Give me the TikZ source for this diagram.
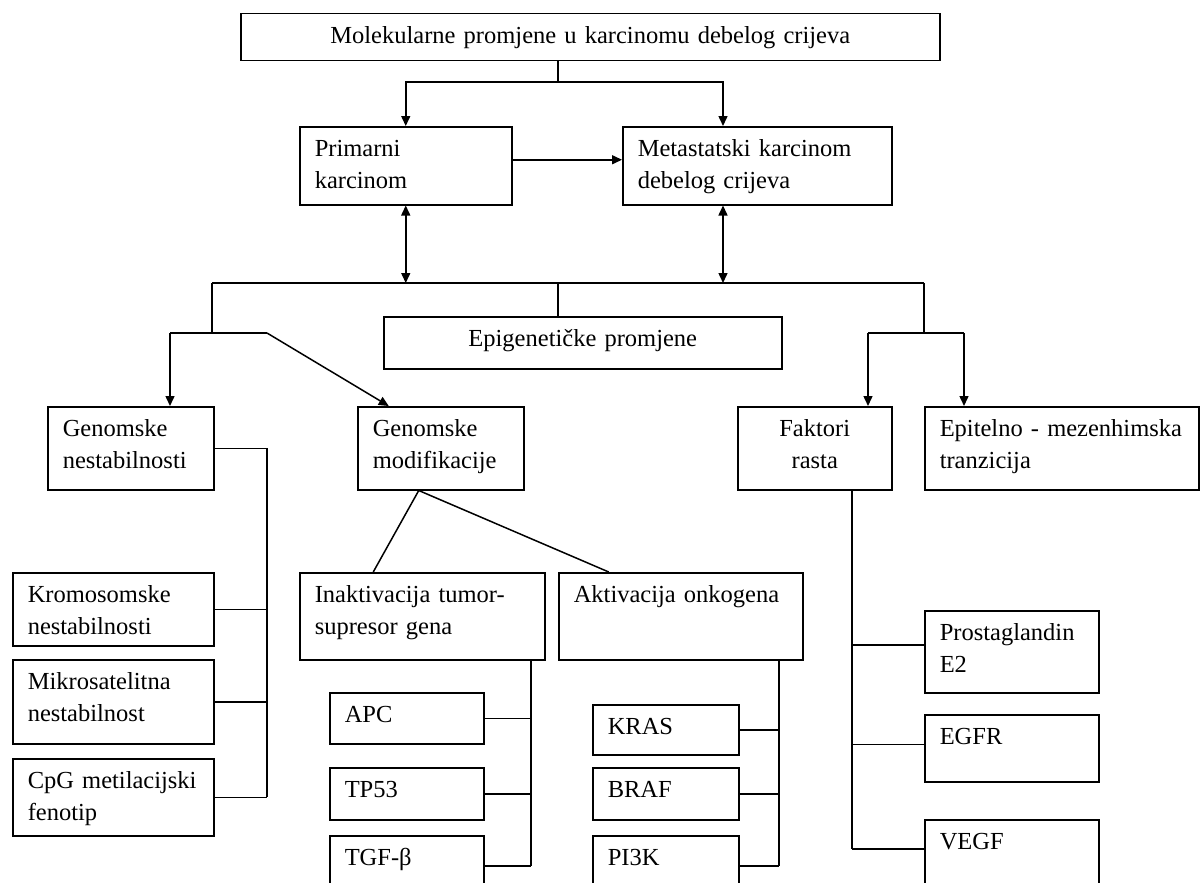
\documentclass[tikz,border=0pt]{standalone}
\usepackage{fontspec}
\setmainfont{Liberation Serif}
\usetikzlibrary{arrows.meta}

\begin{document}
\begin{tikzpicture}[x=1pt,y=-1pt,line width=1.5pt,>={Triangle[length=10pt,width=9pt]},
  box/.style={draw,anchor=north west,align=left,inner xsep=15pt,inner ysep=14pt,
    text height=16pt,font=\fontsize{24.5}{32}\selectfont}]
  \useasboundingbox (0,0) rectangle (1200,883);
  \clip (0,0) rectangle (1200,883);

  % top levels
  \node[box,align=center,text width=669pt,text depth=3pt] (top) at (240,13)
    {Molekularne promjene u karcinomu debelog crijeva};
  \node[box,text width=182pt,text depth=34pt] (prim) at (299,126) {Primarni\\karcinom};
  \node[box,text width=239pt,text depth=34pt] (meta) at (622,126) {Metastatski karcinom\\debelog crijeva};
  \node[box,align=center,text width=368pt,text depth=8pt] (epi) at (383,316) {Epigenetičke promjene};

  \node[box,text width=136pt,text depth=39pt] (gnest) at (47,406) {Genomske\\nestabilnosti};
  \node[box,text width=136pt,text depth=39pt] (gmod) at (357,406) {Genomske\\modifikacije};
  \node[box,align=center,text width=124pt,text depth=39pt] (fakt) at (737,406) {Faktori\\rasta};
  \node[box,text width=244pt,text depth=39pt] (emt) at (924,406) {Epitelno - mezenhimska\\tranzicija};

  % genomic instability
  \node[box,text width=171pt,text depth=29pt] (krom) at (12,572) {Kromosomske\\nestabilnosti};
  \node[box,text width=171pt,text depth=40pt] (mikro) at (12,659) {Mikrosatelitna\\nestabilnost};
  \node[box,text width=171pt,text depth=33pt] (cpg) at (12,758) {CpG metilacijski\\fenotip};

  % genomic modifications
  \node[box,text width=215pt,text depth=43pt] (inakt) at (299,572) {Inaktivacija tumor-\\supresor gena};
  \node[box,text width=214pt,text depth=43pt] (akt) at (558,572) {Aktivacija onkogena};
  \node[box,text width=124pt,text depth=7pt] (apc) at (329,692) {APC};
  \node[box,text width=124pt,text depth=8pt] (tp53) at (329,767) {TP53};
  \node[box,text width=124pt,text depth=16pt] (tgf) at (329,835) {TGF-β};
  \node[box,text width=116pt,text depth=6pt] (kras) at (592,704) {KRAS};
  \node[box,text width=116pt,text depth=8pt] (braf) at (592,767) {BRAF};
  \node[box,text width=116pt,text depth=16pt] (pi3k) at (592,835) {PI3K};

  % growth factors
  \node[box,text width=144pt,text depth=38pt] (pge) at (924,610) {Prostaglandin\\E2};
  \node[box,text width=144pt,text depth=23pt] (egfr) at (924,714) {EGFR};
  \node[box,text width=144pt,text depth=36pt] (vegf) at (924,819) {VEGF};

  % junction points
  \coordinate (j1) at (558,82);
  \coordinate (jm) at (723,82);
  \coordinate (bl) at (212,283);
  \coordinate (br) at (924,283);
  \coordinate (gl) at (170,333);
  \coordinate (gr) at (267,333);
  \coordinate (fl) at (868,333);
  \coordinate (fr) at (964,333);
  \coordinate (iv) at (531,659);
  \coordinate (av) at (779,659);
  \coordinate (fv) at (852,489);
  \coordinate (vb) at ([yshift=11pt]vegf.west);

  \draw (j1 |- top.south) -- (j1);
  \draw[->] (j1) -| (prim.north);
  \draw[->] (j1) -- (jm) -- (jm |- meta.north);
  \draw[->] ([yshift=6pt]prim.east) -- ([yshift=6pt]meta.west);
  \draw[<->] (prim.south) -- (prim.south |- bl);
  \draw[<->] (jm |- meta.south) -- (jm |- bl);
  \draw (bl) -- (br);
  \draw (j1 |- bl) -- (j1 |- epi.north);

  \draw (bl) -- (bl |- gl);
  \draw (gl) -- (gr);
  \draw[->] (gl) -- (gl |- gnest.north);
  \draw[->] (gr) -- ([xshift=-52pt]gmod.north);

  \draw (br) -- (br |- fl);
  \draw (fl) -- (fr);
  \draw[->] (fl) -- (fl |- fakt.north);
  \draw[->] (fr) -- (fr |- emt.north);

  \draw (gnest.east) -- (gnest.east -| gr) -- (gr |- cpg.east);
  \foreach \n in {krom,mikro,cpg}
    \draw (\n.east) -- (\n.east -| gr);

  \draw ([xshift=-22pt]gmod.south) -- ([xshift=-49pt]inakt.north);
  \draw ([xshift=-22pt]gmod.south) -- ([xshift=-72pt]akt.north);

  \draw (iv) -- (iv |- tgf.east);
  \foreach \n in {apc,tp53,tgf}
    \draw (\n.east) -- (\n.east -| iv);
  \draw (av) -- (av |- pi3k.east);
  \foreach \n in {kras,braf,pi3k}
    \draw (\n.east) -- (\n.east -| av);

  \draw (fv) -- (fv |- vb);
  \draw ([yshift=7pt]pge.west) -- ([yshift=7pt]pge.west -| fv);
  \draw ([yshift=4pt]egfr.west) -- ([yshift=4pt]egfr.west -| fv);
  \draw (vb) -- (vb -| fv);
\end{tikzpicture}
\end{document}
